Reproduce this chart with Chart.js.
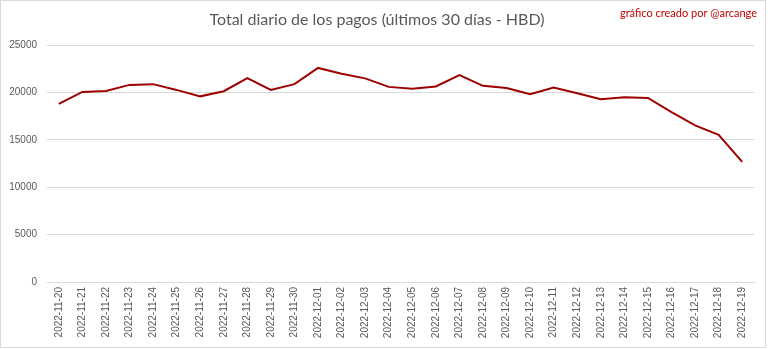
<!DOCTYPE html>
<html>
<head>
<meta charset="utf-8">
<script src="https://cdn.jsdelivr.net/npm/chart.js"></script>
<style>
    html, body { margin: 0; padding: 0; background: #fff; }
    #wrap { width: 768px; height: 349px; }
</style>
</head>
<body>
<div id="wrap"><canvas id="pagos"></canvas></div>
<script>
    // Días y total pagado (HBD) por día
    const fechas = [
        '2022-11-20', '2022-11-21', '2022-11-22', '2022-11-23', '2022-11-24',
        '2022-11-25', '2022-11-26', '2022-11-27', '2022-11-28', '2022-11-29',
        '2022-11-30', '2022-12-01', '2022-12-02', '2022-12-03', '2022-12-04',
        '2022-12-05', '2022-12-06', '2022-12-07', '2022-12-08', '2022-12-09',
        '2022-12-10', '2022-12-11', '2022-12-12', '2022-12-13', '2022-12-14',
        '2022-12-15', '2022-12-16', '2022-12-17', '2022-12-18', '2022-12-19'
    ];
    const totalHBD = [
        18800, 20070, 20170, 20810, 20890, 20280, 19600, 20140, 21530, 20280,
        20890, 22600, 21990, 21500, 20600, 20390, 20640, 21850, 20710, 20490,
        19820, 20530, 19930, 19290, 19500, 19430, 17930, 16540, 15540, 12680
    ];
    const yTicks = [0, 5000, 10000, 15000, 20000, 25000];

    const GRIS = '#595959';
    const ROJO = '#9e0000';

    // marco gris y firma arriba a la derecha
    const marco = {
        id: 'marco',
        afterDraw(chart) {
            const ctx = chart.ctx;
            ctx.save();
            ctx.strokeStyle = '#d9d9d9';
            ctx.lineWidth = 1;
            ctx.strokeRect(0.5, 0.5, 765, 347);
            ctx.fillStyle = '#c00000';
            ctx.font = '11px Lato, sans-serif';
            ctx.textAlign = 'right';
            ctx.textBaseline = 'middle';
            ctx.fillText('gráfico creado por @arcange', 757, 13);
            ctx.restore();
        }
    };

    new Chart(document.getElementById('pagos'), {
        type: 'line',
        data: {
            labels: fechas,
            datasets: [{
                label: 'Total HBD',
                data: totalHBD,
                borderColor: ROJO,
                backgroundColor: ROJO,
                borderWidth: 2,
                pointRadius: 0,
                tension: 0
            }]
        },
        options: {
            responsive: true,
            maintainAspectRatio: false,
            animation: false,
            layout: { padding: { left: 0, right: 14, top: 0, bottom: 8 } },
            plugins: {
                legend: { display: false },
                tooltip: { enabled: false },
                title: {
                    display: true,
                    text: 'Total diario de los pagos (últimos 30 días - HBD)',
                    color: GRIS,
                    font: { family: 'Lato', size: 16, weight: 'normal' },
                    padding: { top: 10, bottom: 16 }
                }
            },
            scales: {
                x: {
                    offset: true,
                    grid: { display: false, drawTicks: false },
                    border: { color: '#d9d9d9' },
                    ticks: {
                        color: GRIS,
                        font: { family: 'Liberation Sans', size: 10 },
                        minRotation: 90,
                        maxRotation: 90,
                        autoSkip: false,
                        padding: 5
                    },
                    afterFit(scale) { scale.height = 59; }
                },
                y: {
                    min: 0,
                    max: 25000,
                    afterBuildTicks(scale) { scale.ticks = yTicks.map(v => ({ value: v })); },
                    grid: { color: '#d9d9d9', drawTicks: false },
                    border: { display: false },
                    ticks: {
                        color: GRIS,
                        font: { family: 'Liberation Sans', size: 10 },
                        padding: 10,
                        callback: v => String(v)
                    },
                    afterFit(scale) { scale.width = 47; }
                }
            }
        },
        plugins: [marco]
    });
</script>
</body>
</html>
